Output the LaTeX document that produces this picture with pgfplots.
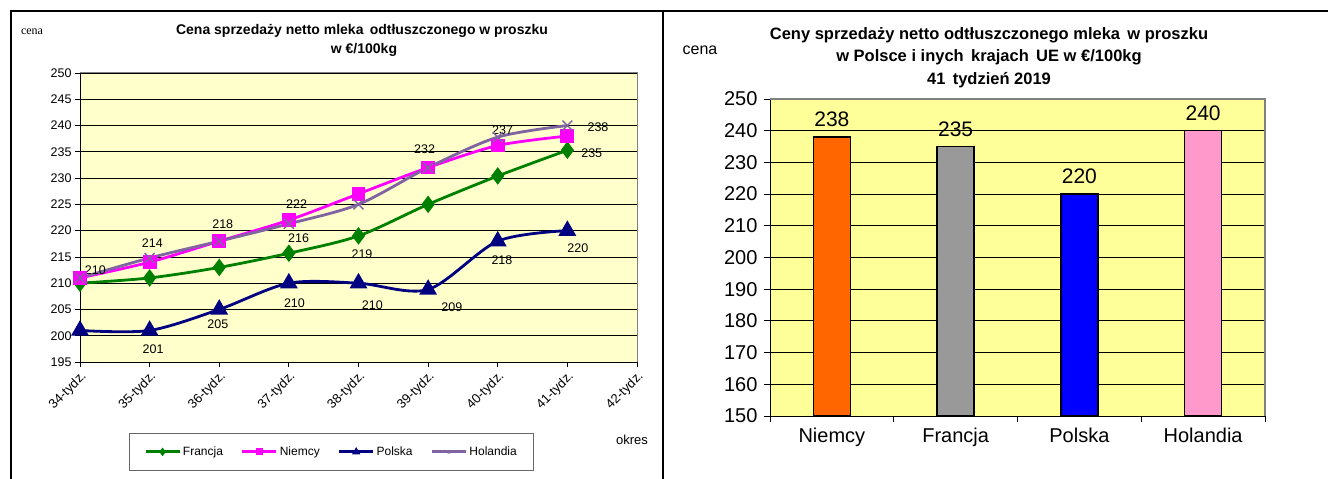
\documentclass[border=0pt]{standalone}
\usepackage{pgfplots}
\pgfplotsset{compat=1.18}
\usepackage{fontspec}
\setmainfont{Liberation Sans}
\newfontfamily\seriff{Liberation Serif}
\definecolor{fr}{RGB}{0,128,0}
\definecolor{de}{RGB}{255,0,255}
\definecolor{pl}{RGB}{0,0,128}
\definecolor{nl}{RGB}{128,100,162}
\definecolor{bgL}{RGB}{255,255,204}
\definecolor{bgR}{RGB}{255,255,153}
\definecolor{barDE}{RGB}{255,102,0}
\definecolor{barFR}{RGB}{153,153,153}
\definecolor{barPL}{RGB}{0,0,255}
\definecolor{barNL}{RGB}{255,153,204}
\newcommand\fs[1]{\fontsize{#1pt}{#1pt}\selectfont}
\begin{document}
\begin{tikzpicture}
\path[use as bounding box] (0,0) rectangle (1328pt,479pt);
\draw[line width=1.2pt] (11pt,0pt) -- (11pt,468pt) -- (1328pt,468pt);
\draw[line width=1.2pt] (663pt,0pt) -- (663pt,468pt);
% left titles
\node[font=\bfseries\fs{14}] at (362pt,448pt) {Cena sprzedaży netto mleka\, odtłuszczonego w proszku};
\node[font=\bfseries\fs{14}] at (364pt,429pt) {w €/100kg};
\node[font=\seriff\fs{12}] at (32pt,447pt) {cena};
\node[font=\fs{13}] at (632pt,39pt) {okres};
% right titles
\node[font=\bfseries\fs{16.5}] at (989pt,444pt) {Ceny sprzedaży netto odtłuszczonego mleka\, w proszku};
\node[font=\bfseries\fs{16.5}] at (989pt,422pt) {w Polsce i inych\, krajach\, UE w €/100kg};
\node[font=\bfseries\fs{16.5}] at (989pt,399pt) {41\, tydzień 2019};
\node[font=\fs{16}] at (700pt,429pt) {cena};

\begin{axis}[at={(80pt,117pt)}, anchor=south west, scale only axis,
  width=557pt, height=289pt,
  xmin=0, xmax=8, ymin=195, ymax=250,
  xtick={0,...,8},
  xticklabels={34-tydz.,35-tydz.,36-tydz.,37-tydz.,38-tydz.,39-tydz.,40-tydz.,41-tydz.,42-tydz.},
  ytick={195,200,...,250},
  axis x line*=bottom, axis y line*=left,
  axis line style={black, line width=0.8pt},
  tick align=outside, major tick length=5pt,
  tick style={black, line width=0.8pt},
  ymajorgrids, grid style={black, line width=0.7pt},
  axis background/.style={fill=bgL},
  /pgf/number format/assume math mode=true,
  yticklabel style={font=\fs{12.5}},
  xticklabel style={font=\fs{13}, rotate=45, anchor=north east, inner sep=2pt},
  clip=false,
  legend columns=4,
  legend style={at={(0.4515,-0.311)}, anchor=center, draw=black!60, line width=0.8pt,
    font=\fs{12}, inner xsep=15pt, inner ysep=11pt,
    /tikz/every even column/.append style={column sep=16pt}},
  legend image code/.code={\draw[mark repeat=2,mark phase=2,mark size=2pt] plot coordinates {(0pt,0pt)(17pt,0pt)(34pt,0pt)};},
  after end axis/.code={\draw[black!50, line width=1pt] (rel axis cs:0,1) -- (rel axis cs:1,1) -- (rel axis cs:1,0);}
]
\addplot[fr, line width=2.8pt, smooth, mark=diamond*, mark size=6.5pt] coordinates {(0,210)(1,211)(2,213)(3,215.7)(4,219)(5,225)(6,230.4)(7,235.3)};
\addlegendentry{Francja}
\addplot[de, line width=2.8pt, smooth, mark=square*, mark size=5.5pt] coordinates {(0,211)(1,214)(2,218)(3,222)(4,227)(5,232)(6,236.2)(7,238)};
\addlegendentry{Niemcy}
\addplot[pl, line width=2.8pt, smooth, mark=triangle*, mark size=7.5pt] coordinates {(0,201)(1,201)(2,205)(3,210)(4,210)(5,208.8)(6,218)(7,220)};
\addlegendentry{Polska}
\addplot[nl, line width=2.8pt, smooth, mark=x, mark size=7pt, mark options={line width=1.5pt}] coordinates {(0,211)(1,214.8)(2,218)(3,221.3)(4,225)(5,232)(6,237.8)(7,240)};
\addlegendentry{Holandia}
\begin{scope}[font=\fs{12.5}]
\node at (axis cs:0.22,212.5) {210};
\node at (axis cs:1.04,217.6) {214};
\node at (axis cs:2.05,221.3) {218};
\node at (axis cs:3.11,225.1) {222};
\node at (axis cs:3.14,218.6) {216};
\node at (axis cs:1.98,202.2) {205};
\node at (axis cs:1.05,197.5) {201};
\node at (axis cs:3.08,206.2) {210};
\node at (axis cs:4.05,215.6) {219};
\node at (axis cs:4.2,205.8) {210};
\node at (axis cs:5.34,205.5) {209};
\node at (axis cs:4.95,235.5) {232};
\node at (axis cs:6.06,214.4) {218};
\node at (axis cs:6.07,239.1) {237};
\node at (axis cs:7.44,239.7) {238};
\node at (axis cs:7.35,234.8) {235};
\node at (axis cs:7.15,216.7) {220};
\end{scope}
\end{axis}

\begin{axis}[at={(770pt,63pt)}, anchor=south west, scale only axis,
  width=495pt, height=317pt,
  xmin=-0.5, xmax=3.5, ymin=150, ymax=250,
  ytick={150,160,...,250},
  xtick={-0.5,0.5,1.5,2.5,3.5}, xticklabels={},
  extra x ticks={0,1,2,3},
  extra x tick labels={Niemcy,Francja,Polska,Holandia},
  extra x tick style={major tick length=0pt, tick style={draw=none}, grid=none},
  axis x line*=bottom, axis y line*=left,
  axis line style={black, line width=0.8pt},
  tick align=outside, major tick length=6pt,
  tick style={black, line width=0.8pt},
  ymajorgrids, grid style={black, line width=0.8pt},
  axis background/.style={fill=bgR},
  /pgf/number format/assume math mode=true,
  yticklabel style={font=\fs{20}, xshift=-3pt},
  xticklabel style={font=\fs{20}, yshift=-8pt},
  after end axis/.code={\draw[black!50, line width=1.5pt] (rel axis cs:0,1) -- (rel axis cs:1,1) -- (rel axis cs:1,0);},
  every node near coord/.append style={font=\fs{21}, black, yshift=6pt},
  nodes near coords,
]
\addplot[ybar, bar shift=0pt, bar width=37pt, fill=barDE, draw=black, line width=1.5pt] coordinates {(0,238)};
\addplot[ybar, bar shift=0pt, bar width=37pt, fill=barFR, draw=black, line width=1.5pt] coordinates {(1,235)};
\addplot[ybar, bar shift=0pt, bar width=37pt, fill=barPL, draw=black, line width=1.5pt] coordinates {(2,220)};
\addplot[ybar, bar shift=0pt, bar width=37pt, fill=barNL, draw=black, line width=1.5pt] coordinates {(3,240)};
\end{axis}
\end{tikzpicture}
\end{document}
